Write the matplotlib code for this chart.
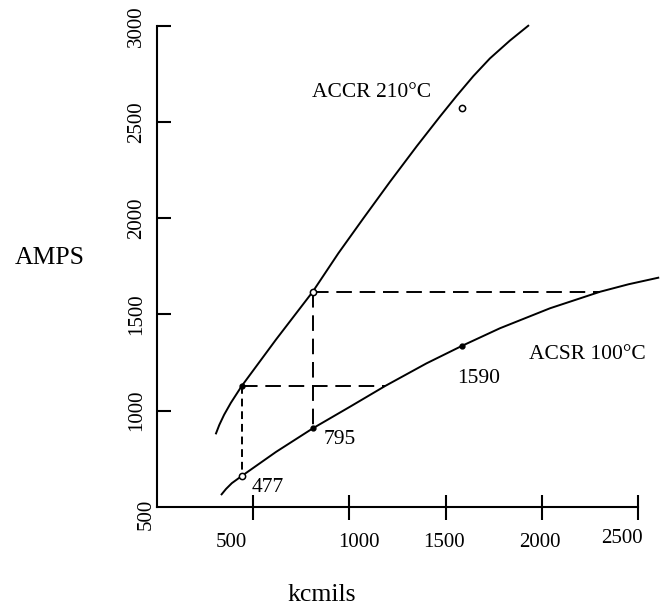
import matplotlib
matplotlib.use("Agg")
import matplotlib.pyplot as plt

plt.rcParams["font.family"] = ["Liberation Serif", "DejaVu Serif"]

# ampacity curves (kcmils, amps)
accr_kcmil = [308, 325, 350, 385, 441, 620, 810, 943, 1073, 1211, 1350, 1471, 1558, 1644, 1730, 1834, 1929]
accr_amps = [881, 925, 978, 1040, 1127, 1370, 1618, 1818, 2000, 2190, 2375, 2530, 2638, 2740, 2832, 2925, 3002]
acsr_kcmil = [337, 360, 390, 441, 620, 810, 1004, 1185, 1400, 1584, 1782, 2042, 2302, 2450, 2604]
acsr_amps = [564, 592, 622, 659, 785, 907, 1020, 1127, 1245, 1336, 1428, 1532, 1618, 1657, 1691]

# marked conductor sizes
dot_kcmil = [441, 810, 1584]
dot_amps = [1127, 907, 1336]
ring_kcmil = [441, 810, 1587]
ring_amps = [659, 1618, 2575]

# dashed guide lines: (x0, y0, x1, y1)
guides = [(441, 1127, 1185, 1127), (810, 1618, 810, 907), (810, 1618, 2302, 1618)]
short_guide = (441, 1127, 441, 640)

x_ticks = [500, 1000, 1500, 2000, 2500]
x_tick_labels = ["500", "1000", "1500", "2000", "2500"]
y_ticks = [1000, 1500, 2000, 2500, 3000]
y_tick_labels = ["1000", "1500", "2000", "2500", "3000"]

size_labels = ["477", "795", "1590"]

fig = plt.figure(figsize=(6.62, 6.05), dpi=100)
ax = fig.add_axes([0.2367, 0.1626, 0.7623, 0.8101])
ax.set_xlim(0, 2620)
ax.set_ylim(500, 3050)

lw = 1.4
ax.plot(accr_kcmil, accr_amps, color="black", lw=lw, clip_on=False, solid_joinstyle="round")
ax.plot(acsr_kcmil, acsr_amps, color="black", lw=lw, clip_on=False, solid_joinstyle="round")

for x0, y0, x1, y1 in guides:
    ax.plot([x0, x1], [y0, y1], color="black", lw=lw, ls=(0, (8, 4)))
x0, y0, x1, y1 = short_guide
ax.plot([x0, x1], [y0, y1], color="black", lw=lw, ls=(0, (4, 2.5)))

ax.plot(dot_kcmil, dot_amps, "o", color="black", ms=3.5, zorder=5)
ax.plot(ring_kcmil, ring_amps, "o", mfc="white", mec="black", ms=4.5, mew=1.1, zorder=5)

# axes drawn like the original sketch
for s in ["top", "right"]:
    ax.spines[s].set_visible(False)
ax.spines["left"].set_bounds(500, 3000)
ax.spines["bottom"].set_bounds(0, 2500)
ax.spines["left"].set_linewidth(1.5)
ax.spines["bottom"].set_linewidth(1.5)

ax.set_yticks(y_ticks)
ax.set_yticklabels(y_tick_labels, rotation=90, va="center")
ax.tick_params(axis="y", direction="in", length=10, width=1.5, pad=7.5, labelsize=15)
ax.text(-52, 458, "500", rotation=90, ha="center", va="center", fontsize=15)

ax.set_xticks(x_ticks)
ax.set_xticklabels([])
ax.tick_params(axis="x", direction="inout", length=18, width=1.5)
label_x = [389, 1050, 1490, 1990, 2414]
label_y = [311, 311, 311, 311, 336]
for lab, lx, ly in zip(x_tick_labels, label_x, label_y):
    ax.text(lx, ly, lab, ha="center", va="center", fontsize=15)

ax.text(806, 2633, "ACCR 210°C", fontsize=15.5, va="baseline")
ax.text(1933, 1266, "ACSR 100°C", fontsize=15.5, va="baseline")
for lab, tx, ty in zip(size_labels, [493, 869, 1559], [577, 824, 1143]):
    ax.text(tx, ty, lab, fontsize=15.5, va="baseline")

fig.text(50 / 662, 1 - 258 / 605, "AMPS", ha="center", va="center", fontsize=18.5)
fig.text(322 / 662, 1 - 601 / 605, "kcmils", ha="center", va="baseline", fontsize=18.5)

fig.savefig("out.png", dpi=100)
